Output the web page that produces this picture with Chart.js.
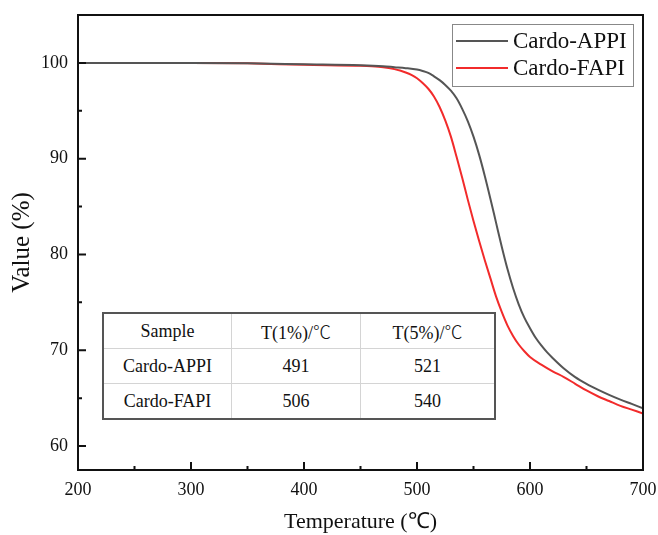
<!DOCTYPE html>
<html><head><meta charset="utf-8">
<script src="https://cdn.jsdelivr.net/npm/chart.js@4.4.0/dist/chart.umd.min.js"></script>
<style>
html,body{margin:0;padding:0;background:#fff;}
#wrap{position:relative;width:658px;height:535px;}
canvas{display:block;}
#tbl{position:absolute;left:102px;top:312px;border-collapse:collapse;font-family:"Liberation Serif",serif;font-size:18px;color:#111;background:#fff;border:2px solid #555;}
#tbl td{border:1px solid #d4d4d4;text-align:center;padding:0;height:34px;}
#tbl tr:first-child td{border-top:none;}
#tbl tr:last-child td{border-bottom:none;}
#tbl td:first-child{border-left:none;}
#tbl td:last-child{border-right:none;}
.deg{font-family:"Noto Sans CJK SC",sans-serif;font-weight:300;}
</style></head>
<body>
<div id="wrap">
<canvas id="c" width="658" height="535"></canvas>
<table id="tbl"></table>
</div>
<script>
// ---- data ----
const seriesNames = ["Cardo-APPI", "Cardo-FAPI"];
const appiTemp = [200, 250, 300, 350, 400, 450, 470, 480, 490, 500, 505, 510, 515, 520, 525, 530, 535, 540, 545, 550, 555, 560, 565, 570, 575, 580, 585, 590, 595, 600, 605, 610, 615, 620, 630, 640, 650, 660, 670, 680, 690, 700];
const appiValue = [100.0, 100.0, 100.0, 99.95, 99.85, 99.75, 99.65, 99.55, 99.45, 99.3, 99.15, 98.95, 98.6, 98.2, 97.7, 97.1, 96.3, 95.2, 93.9, 92.3, 90.4, 88.2, 85.8, 83.3, 80.8, 78.5, 76.5, 74.8, 73.4, 72.3, 71.3, 70.5, 69.8, 69.2, 68.1, 67.2, 66.5, 65.9, 65.35, 64.85, 64.4, 63.95];
const fapiTemp = [200, 250, 300, 350, 400, 450, 460, 470, 480, 485, 490, 495, 500, 505, 510, 515, 520, 525, 530, 535, 540, 545, 550, 555, 560, 565, 570, 575, 580, 585, 590, 595, 600, 610, 620, 630, 640, 650, 660, 670, 680, 690, 700];
const fapiValue = [100.0, 100.0, 100.0, 99.95, 99.8, 99.7, 99.65, 99.55, 99.35, 99.2, 99.0, 98.75, 98.4, 97.9, 97.3, 96.5, 95.4, 94.0, 92.3, 90.2, 88.0, 85.7, 83.5, 81.4, 79.4, 77.5, 75.6, 74.0, 72.6, 71.5, 70.6, 69.9, 69.3, 68.5, 67.8, 67.2, 66.5, 65.8, 65.2, 64.7, 64.2, 63.8, 63.4];
const xTicks = [200, 300, 400, 500, 600, 700];
const xMinorTicks = [250, 350, 450, 550, 650];
const yTicks = [60, 70, 80, 90, 100];
const yMinorTicks = [65, 75, 85, 95];
const tableHeader = ["Sample", "T(1%)/℃", "T(5%)/℃"];
const tableRows = [["Cardo-APPI", "491", "521"], ["Cardo-FAPI", "506", "540"]];

// ---- table ----
const colW = [127, 128, 133];
const tbl = document.getElementById('tbl');
function fmt(s){ return s.replace('℃', '<span class="deg">℃</span>'); }
[tableHeader].concat(tableRows).forEach((row, ri) => {
  const tr = document.createElement('tr');
  row.forEach((cell, ci) => {
    const td = document.createElement('td');
    td.style.width = colW[ci] + 'px';
    td.innerHTML = fmt(cell);
    tr.appendChild(td);
  });
  tbl.appendChild(tr);
});

// ---- plugins ----
const frameTicks = {
  id: 'frameTicks',
  afterDatasetsDraw(chart) {
    const {ctx, chartArea: a, scales: {x, y}} = chart;
    ctx.save();
    ctx.strokeStyle = '#111';
    ctx.lineWidth = 2;
    ctx.strokeRect(a.left, a.top, a.right - a.left, a.bottom - a.top);
    ctx.beginPath();
    xTicks.forEach(v => { const p = x.getPixelForValue(v); ctx.moveTo(p, a.bottom); ctx.lineTo(p, a.bottom - 8); });
    xMinorTicks.forEach(v => { const p = x.getPixelForValue(v); ctx.moveTo(p, a.bottom); ctx.lineTo(p, a.bottom - 4); });
    yTicks.forEach(v => { const p = y.getPixelForValue(v); ctx.moveTo(a.left, p); ctx.lineTo(a.left + 8, p); });
    yMinorTicks.forEach(v => { const p = y.getPixelForValue(v); ctx.moveTo(a.left, p); ctx.lineTo(a.left + 4, p); });
    ctx.stroke();
    // legend box
    const bx = a.right - 191, by = a.top + 9, bw = 181, bh = 62;
    ctx.lineWidth = 1;
    ctx.strokeStyle = '#888';
    ctx.strokeRect(bx + 0.5, by + 0.5, bw, bh);
    ctx.font = '23px "Liberation Serif", serif';
    ctx.textBaseline = 'middle';
    ctx.textAlign = 'left';
    chart.data.datasets.forEach((ds, i) => {
      const ly = by + 17 + i * 27;
      ctx.strokeStyle = ds.borderColor;
      ctx.lineWidth = 2;
      ctx.beginPath(); ctx.moveTo(bx + 4, ly); ctx.lineTo(bx + 56, ly); ctx.stroke();
      ctx.fillStyle = '#111';
      ctx.fillText(ds.label, bx + 61, ly + 1);
    });
    ctx.restore();
  }
};

const toPts = (xs, ys) => xs.map((v, i) => ({x: v, y: ys[i]}));

new Chart(document.getElementById('c'), {
  type: 'line',
  data: {
    datasets: [
      {label: seriesNames[0], data: toPts(appiTemp, appiValue), borderColor: '#555555', borderWidth: 2, pointRadius: 0, cubicInterpolationMode: 'monotone', fill: false},
      {label: seriesNames[1], data: toPts(fapiTemp, fapiValue), borderColor: '#f22b2b', borderWidth: 2, pointRadius: 0, cubicInterpolationMode: 'monotone', fill: false}
    ]
  },
  options: {
    responsive: false,
    animation: false,
    layout: {padding: {top: 15, right: 15, left: 0, bottom: 0}},
    plugins: {legend: {display: false}, tooltip: {enabled: false}},
    scales: {
      x: {
        type: 'linear', min: 200, max: 700,
        afterFit(s) { s.height = 65; s.paddingLeft = 0; s.paddingRight = 0; },
        afterBuildTicks(s) { s.ticks = xTicks.map(v => ({value: v})); },
        grid: {display: false, drawTicks: false},
        border: {display: false},
        ticks: {padding: 9, color: '#111', font: {family: '"Liberation Serif", serif', size: 18}, maxRotation: 0},
        title: {display: true, text: 'Temperature (℃)', color: '#111', font: {family: '"Liberation Serif", serif', size: 22}, padding: {top: 0, bottom: 0}}
      },
      y: {
        type: 'linear', min: 57.5, max: 105,
        afterFit(s) { s.width = 78; s.paddingTop = 0; s.paddingBottom = 0; },
        afterBuildTicks(s) { s.ticks = yTicks.map(v => ({value: v})); },
        grid: {display: false, drawTicks: false},
        border: {display: false},
        ticks: {padding: 10, color: '#111', font: {family: '"Liberation Serif", serif', size: 18}},
        title: {display: true, text: 'Value (%)', color: '#111', font: {family: '"Liberation Serif", serif', size: 25}, padding: {top: 7, bottom: 0}}
      }
    }
  },
  plugins: [frameTicks]
});
</script>
</body></html>
